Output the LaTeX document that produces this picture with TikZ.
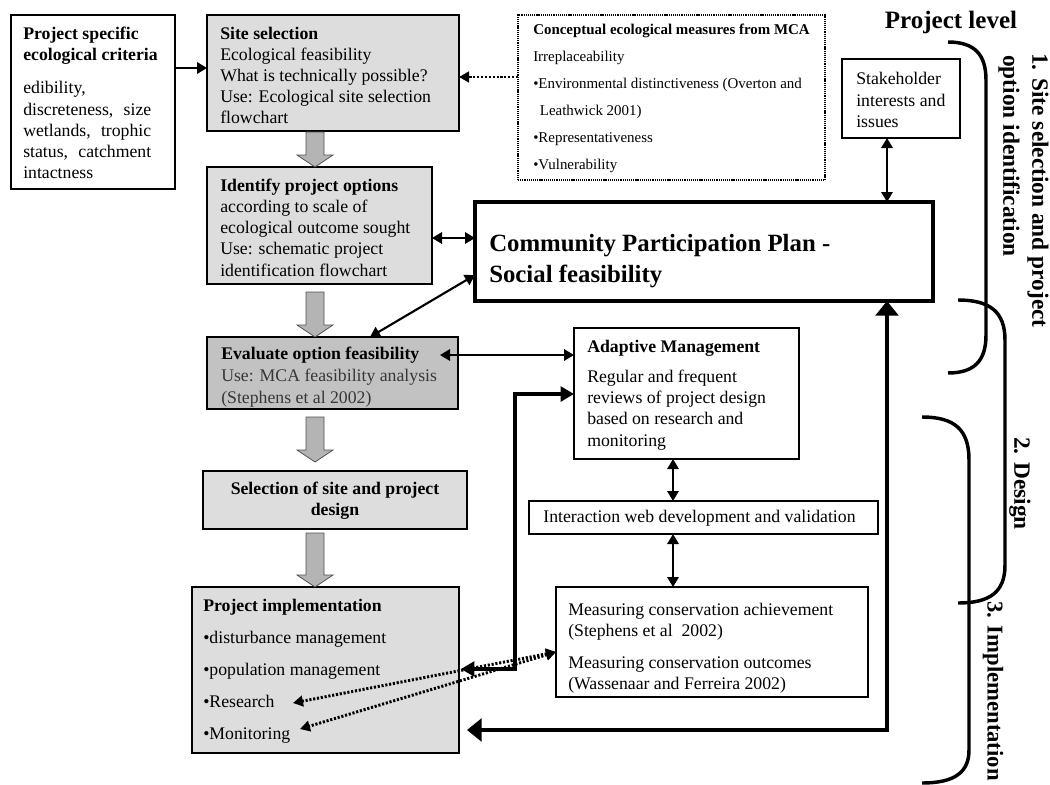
\documentclass[tikz,border=0pt]{standalone}
\usepackage{fontspec}
\setmainfont{Liberation Serif}
\usetikzlibrary{arrows.meta,calc}
\definecolor{lightfill}{RGB}{221,221,221}
\definecolor{midfill}{RGB}{194,194,194}
\definecolor{arrfill}{RGB}{180,180,180}
\definecolor{arredge}{RGB}{80,80,80}
\definecolor{softtext}{RGB}{55,55,55}
\newcommand\bodyfont{\fontsize{13.3}{15.9}\selectfont}
\newcommand\blockarrow[2]{\draw[blk] (306,#1) -- (324,#1) -- (324,#2-12) -- (333,#2-12) -- (315,#2) -- (297,#2-12) -- (306,#2-12) -- cycle;}
\begin{document}
\begin{tikzpicture}[x=0.75pt,y=-0.75pt,
  box/.style={draw, line width=1.9pt, anchor=north west, inner sep=0pt, outer sep=0pt},
  graybox/.style={box, fill=lightfill},
  txt/.style={anchor=west, align=left, inner sep=0pt, font=\bodyfont},
  blk/.style={draw=arredge, fill=arrfill, line width=0.6pt, line join=miter},
  dbl/.style={line width=1.6pt, {Triangle[length=7.5pt,width=8.5pt]}-{Triangle[length=7.5pt,width=8.5pt]}},
  sgl/.style={line width=1.9pt, -{Triangle[length=7.5pt,width=8.5pt]}},
  dotarr/.style={line width=2.2pt, dash pattern=on 1.6pt off 1.3pt, -{Triangle[length=7.5pt,width=8pt]}},
  dotdbl/.style={line width=2.2pt, dash pattern=on 1.6pt off 1.3pt, {Triangle[length=7.5pt,width=8pt]}-{Triangle[length=7.5pt,width=8pt]}},
  fatA/.style={line width=3pt, line join=miter, {Triangle[length=10pt,width=11pt]}-{Triangle[length=10pt,width=11pt]}},
  fatB/.style={line width=3.3pt, line join=miter, {Triangle[length=11pt,width=17pt]}-{Triangle[length=11pt,width=17pt]}},
  brk/.style={line width=2.6pt},
  rottxt/.style={rotate=-90, anchor=west, inner sep=0pt, font=\bfseries\fontsize{17.5}{20}\selectfont}
]
\useasboundingbox (0,0) rectangle (1050,785);

% ---------- boxes ----------
\node[box, minimum width=123pt, minimum height=130.5pt] (crit) at (11,15) {};
\node[txt] (critt) at ($(crit.west)+(12,1)$) {\textbf{Project specific}\\\textbf{ecological criteria}\\[9pt]edibility,\\\makebox[96pt][s]{discreteness,\ \ size}\\\makebox[96pt][s]{wetlands,\ \ trophic}\\\makebox[96pt][s]{status,\ \ catchment}\\intactness};

\node[graybox, minimum width=189pt, minimum height=87pt] (site) at (207,15) {};
\node[txt] (sitet) at ($(site.west)+(13,2.5)$) {\textbf{Site selection}\\Ecological feasibility\\What is technically possible?\\Use: Ecological site selection\\flowchart};

\node[graybox, minimum width=168.75pt, minimum height=87.75pt] (ident) at (207,167) {};
\node[txt] (identt) at ($(ident.west)+(13,2)$) {\textbf{Identify project options}\\according to scale of\\ecological outcome sought\\Use: schematic project\\identification flowchart};

\node[box, fill=midfill, minimum width=188.25pt, minimum height=54pt] (eval) at (207,337) {};
\node[txt, font=\fontsize{13.3}{16.5}\selectfont] (evalt) at ($(eval.west)+(14,4)$) {\textbf{Evaluate option feasibility}\\\textcolor{softtext}{Use: MCA feasibility analysis}\\\textcolor{softtext}{(Stephens et al 2002)}};

\node[graybox, minimum width=198pt, minimum height=43.5pt] (sel) at (203,471) {};
\node[txt, anchor=center, align=center] (selt) at ($(sel.center)+(0,1)$) {\textbf{Selection of site and project}\\\textbf{design}};

\node[graybox, minimum width=200.25pt, minimum height=124.5pt] (impl) at (192,587) {};
\node[txt, font=\fontsize{13.3}{24}\selectfont] (implt) at ($(impl.west)+(11,1)$) {\textbf{Project implementation}\\•disturbance management\\•population management\\•Research\\•Monitoring};

\node[box, line width=1.2pt, dash pattern=on 0.9pt off 0.7pt, minimum width=230.25pt, minimum height=123.75pt] (concept) at (518,15) {};
\node[txt, font=\fontsize{11.2}{20.25}\selectfont] (conceptt) at ($(concept.west)+(15,1)$) {\textbf{Conceptual ecological measures from MCA}\\Irreplaceability\\•Environmental distinctiveness (Overton and\\\hspace*{5pt}Leathwick 2001)\\•Representativeness\\•Vulnerability};

\node[box, line width=1.5pt, minimum width=88.5pt, minimum height=59.25pt] (stake) at (842,59) {};
\node[txt] (staket) at ($(stake.west)+(14,1.5)$) {Stakeholder\\interests and\\issues};

\node[box, line width=2.3pt, minimum width=343.5pt, minimum height=74.25pt] (cpp) at (475,202) {};
\node[txt, font=\bfseries\fontsize{18.6}{23.25}\selectfont] (cppt) at ($(cpp.west)+(14,10)$) {Community Participation Plan -\\Social feasibility};

\node[box, line width=1.5pt, minimum width=168.75pt, minimum height=98.25pt] (adapt) at (574,328) {};
\node[txt] (adaptt) at ($(adapt.west)+(13,1.5)$) {\textbf{Adaptive Management}\\[6.75pt]Regular and frequent\\reviews of project design\\based on research and\\monitoring};

\node[box, line width=0.8pt, minimum width=261.75pt, minimum height=24.75pt] (inter) at (529,501) {};
\node[txt, anchor=center] (intert) at ($(inter.center)+(-4,0.5)$) {Interaction web development and validation};

\node[box, line width=1.1pt, minimum width=234pt, minimum height=82.5pt] (meas) at (556,587) {};
\node[txt] (meast) at ($(meas.west)+(12,6)$) {Measuring conservation achievement\\(Stephens et al\ \ 2002)\\[8pt]Measuring conservation outcomes\\(Wassenaar and Ferreira 2002)};

% ---------- grey block arrows ----------
\blockarrow{132}{167}
\blockarrow{292}{337}
\blockarrow{417}{462}
\blockarrow{533}{587}

% ---------- connectors ----------
\draw[sgl] ($(crit.north east)+(0,53)$) -- ($(site.north west)+(0,53)$);
\draw[dotarr] ($(concept.north west)+(0,62)$) -- ($(site.north east)+(0,62)$);
\draw[dbl] ($(ident.north east)+(0,71)$) -- ($(cpp.north west)+(0,36)$);
\draw[dbl] ($(eval.north west)+(163,0)$) -- ($(cpp.north west)+(0,73)$);
\draw[dbl] ($(eval.north east)+(-18,18)$) -- ($(adapt.north west)+(0,27)$);
\draw[dbl] ($(stake.south west)+(45,0)$) -- ($(cpp.north west)+(412,0)$);
\draw[dbl] ($(adapt.south west)+(99,0)$) -- ($(inter.north west)+(144,0)$);
\draw[dbl] ($(inter.south west)+(144,0)$) -- ($(meas.north west)+(117,0)$);

\draw[fatA] ($(impl.north east)+(2,82)$) -| ($(adapt.north west)+(-59,66)$) -- ($(adapt.north west)+(0,66)$);
\draw[fatB] ($(impl.north east)+(8,143)$) -| ($(cpp.south west)+(412,0)$);

\coordinate (res) at (293,703);
\coordinate (mon) at (300,729);
\draw[dotdbl] ($(meas.north west)+(0,65)$) -- (res);
\draw[dotdbl] ($(meas.north west)+(0,65)$) -- (mon);

% ---------- brackets ----------
\draw[brk] (948,42) .. controls (975,42) and (986,55) .. (986,80) -- (986,335) .. controls (986,360) and (975,373) .. (948,373);
\draw[brk] (958,300) .. controls (990,300) and (1005,312) .. (1005,340) -- (1005,565) .. controls (1005,592) and (990,603) .. (958,603);
\draw[brk] (922,417) .. controls (955,417) and (969,430) .. (969,460) -- (969,750) .. controls (969,772) and (955,783) .. (922,783);

% ---------- level labels ----------
\node[anchor=base, inner sep=0pt, font=\bfseries\fontsize{18.75}{20}\selectfont] (plev) at (951,28) {Project level};
\node[rottxt] (lvla) at (1038,53) {1. Site selection and project};
\node[rottxt] (lvlb) at (1009,55) {option identification};
\node[rottxt] (lvlc) at (1020,437) {2. Design};
\node[rottxt, font=\bfseries\fontsize{17}{20}\selectfont] (lvld) at (993,601) {3. Implementation};
\end{tikzpicture}
\end{document}
